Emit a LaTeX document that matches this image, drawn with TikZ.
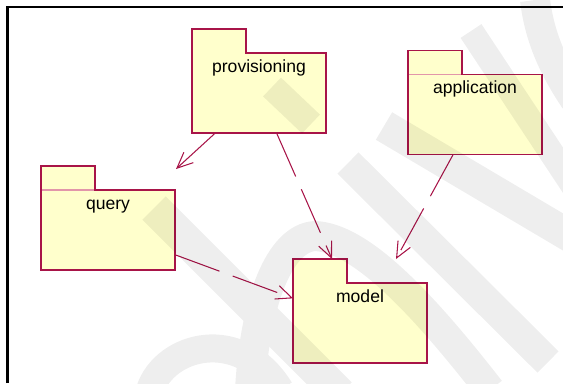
\documentclass[tikz,border=0pt]{standalone}
\usepackage{fontspec}
\setmainfont{Liberation Sans}
\usetikzlibrary{arrows.meta}
\usepackage{xcolor}
\definecolor{umlline}{RGB}{168,20,72}
\definecolor{umlfill}{RGB}{255,255,204}
\definecolor{umltab}{RGB}{226,150,170}

\begin{document}
\begin{tikzpicture}[x=0.02cm,y=-0.02cm,>={Straight Barb[length=9pt,width=8pt]},
  font=\fontsize{10}{12}\selectfont,line join=miter,
  pkgbody/.style={fill=umlfill,minimum width=2.68cm,minimum height=1.6cm,inner sep=0pt,outer sep=0pt},
  pkgtab/.style={fill=umlfill,minimum width=1.08cm,minimum height=0.48cm,inner sep=0pt,outer sep=0pt,anchor=south west},
  pkgline/.style={draw=umlline,line width=0.6pt},
  tabline/.style={draw=umltab,line width=0.6pt},
  pkgname/.style={anchor=base,inner sep=0pt},
  uses/.style={draw=umlline,line width=0.6pt,->},
  depends/.style={uses,dash pattern=on 27pt off 8pt},
  wmband/.style={line width=0.6cm,line cap=butt}]
\useasboundingbox (0,0) rectangle (563,383);
% frame
\draw[line width=1.3pt] (7.5,383) -- (7.5,7) -- (563,7);
% packages
\node[pkgbody] (provisioning) at (259,93) {};
\node[pkgtab] (provisioningtab) at (provisioning.north west) {};
\draw[pkgline] (provisioning.south west) -- (provisioningtab.north west) -- (provisioningtab.north east) -- (provisioningtab.south east) -- (provisioning.north east) -- (provisioning.south east) -- cycle;
\node[pkgname] (provisioninglabel) at ([yshift=-0.38cm]provisioning.north) {provisioning};

\node[pkgbody] (application) at (475,114.5) {};
\node[pkgtab] (applicationtab) at (application.north west) {};
\draw[tabline] (applicationtab.south west) -- (applicationtab.south east);
\draw[pkgline] (application.south west) -- (applicationtab.north west) -- (applicationtab.north east) -- (applicationtab.south east) -- (application.north east) -- (application.south east) -- cycle;
\node[pkgname] (applicationlabel) at ([yshift=-0.37cm]application.north) {application};

\node[pkgbody] (query) at (108,230) {};
\node[pkgtab] (querytab) at (query.north west) {};
\draw[tabline] (querytab.south west) -- (querytab.south east);
\draw[pkgline] (query.south west) -- (querytab.north west) -- (querytab.north east) -- (querytab.south east) -- (query.north east) -- (query.south east) -- cycle;
\node[pkgname] (querylabel) at ([yshift=-0.38cm]query.north) {query};

\node[pkgbody] (model) at (360,323) {};
\node[pkgtab] (modeltab) at (model.north west) {};
\draw[pkgline] (model.south west) -- (modeltab.north west) -- (modeltab.north east) -- (modeltab.south east) -- (model.north east) -- (model.south east) -- cycle;
\node[pkgname] (modellabel) at ([yshift=-0.39cm]model.north) {model};

% connectors
\coordinate (querytip) at (176,169);
\coordinate (provisioningtip) at (332,259);
\coordinate (applicationtip) at (396,259);
\draw[uses] (provisioning) -- (querytip);
\draw[depends] (provisioning) -- (provisioningtip);
\draw[depends] (application) -- (applicationtip);
\draw[depends] (query) -- (model);

% watermark
\begin{scope}[transparency group,opacity=0.065]
\clip (0,0) rectangle (563,383);
\draw[wmband,line width=0.52cm] (272,87) -- (311,124);
\draw[wmband,line width=0.64cm] (384,126) -- (580,242);
\draw[wmband] (348,163) -- (548,362);
\draw[wmband,line width=0.66cm] (154,208) -- (340,394);
\draw[wmband,line width=0.5cm] (471,31) -- (580,196);
\draw[wmband] (250,390) .. controls (255,300) and (280,238) .. (315,236) .. controls (360,238) and (420,300) .. (490,390);
\draw[wmband,line width=0.56cm] (150,390) .. controls (165,345) and (240,325) .. (280,390);
\draw[wmband] (535,0) .. controls (540,40) and (555,70) .. (575,100);
\end{scope}
\end{tikzpicture}
\end{document}
